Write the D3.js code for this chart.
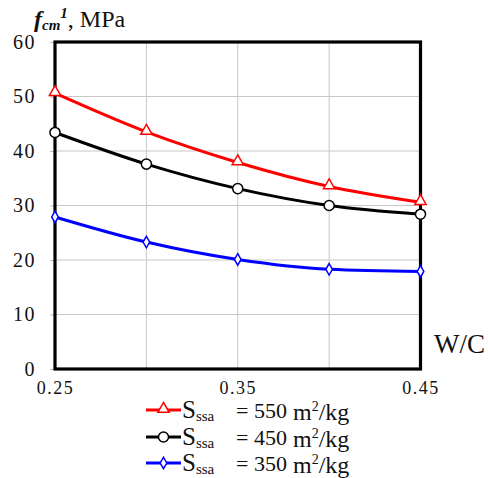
<!DOCTYPE html>
<html><head><meta charset="utf-8">
<script src="https://cdn.jsdelivr.net/npm/d3@7"></script>
<style>body{margin:0;background:#fff}svg{display:block}svg text{font-family:"Liberation Serif","Times New Roman",serif !important}</style>
</head><body>
<script>
const wc = [0.25, 0.30, 0.35, 0.40, 0.45];
const s550 = [50.6, 43.5, 37.9, 33.5, 30.6];
const s450 = [43.4, 37.6, 33.1, 30.0, 28.4];
const s350 = [27.9, 23.3, 20.1, 18.3, 17.9];
const yTicks = [0, 10, 20, 30, 40, 50, 60];
const xTickLabels = [0.25, 0.35, 0.45];
const xGrid = [0.30, 0.35, 0.40];
const seriesNames = ["550", "450", "350"];
const seriesColors = ["#ff0000", "#000000", "#0000ff"];
const seriesSymbols = ["triangle", "circle", "diamond"];

const FF = "'Liberation Serif', 'Times New Roman', serif";
const W = 488, H = 478;
const svg = d3.select("body").append("svg").attr("width", W).attr("height", H)
  .attr("font-family", FF);
const x = d3.scaleLinear().domain([0.25, 0.45]).range([55, 420.5]);
const y = d3.scaleLinear().domain([0, 60]).range([369, 42]);

// grid
svg.append("g").selectAll("line").data(yTicks.filter(d => d > 0 && d < 60)).join("line")
  .attr("x1", x(0.25)).attr("x2", x(0.45)).attr("y1", d => y(d)).attr("y2", d => y(d))
  .attr("stroke", "#c8c8c8").attr("stroke-width", 1);
svg.append("g").selectAll("line").data(xGrid).join("line")
  .attr("y1", y(0)).attr("y2", y(60)).attr("x1", d => x(d)).attr("x2", d => x(d))
  .attr("stroke", "#c8c8c8").attr("stroke-width", 1);

// y axis labels
const yAxis = d3.axisLeft(y).tickValues(yTicks).tickSize(5).tickPadding(14).tickFormat(d3.format("d"));
const ya = svg.append("g").attr("transform", `translate(${x(0.25)},0)`).call(yAxis).attr("font-family", FF);
ya.select(".domain").remove();
ya.selectAll(".tick line").attr("stroke", "#bbb");
ya.selectAll("text").attr("font-size", 20).attr("letter-spacing", 1.5).attr("fill", "#111");

const xAxis = d3.axisBottom(x).tickValues(xTickLabels).tickSize(0).tickPadding(12).tickFormat(d3.format(".2f"));
const xa = svg.append("g").attr("transform", `translate(0,${y(0)})`).call(xAxis).attr("font-family", FF);
xa.select(".domain").remove();
xa.selectAll("text").attr("font-size", 18).attr("letter-spacing", 1.5).attr("fill", "#111");

// frame
svg.append("rect").attr("x", x(0.25)).attr("y", y(60)).attr("width", x(0.45) - x(0.25)).attr("height", y(0) - y(60))
  .attr("fill", "none").attr("stroke", "#000").attr("stroke-width", 3.2);

// series
const allSeries = [s550, s450, s350];
const line = d3.line().x((d, i) => x(wc[i])).y(d => y(d)).curve(d3.curveMonotoneX);
const symType = {triangle: d3.symbolTriangle, circle: d3.symbolCircle, diamond: d3.symbolDiamond};
const symSize = {triangle: 55, circle: 80, diamond: 38};
allSeries.forEach((s, k) => {
  svg.append("path").datum(s).attr("d", line).attr("fill", "none")
    .attr("stroke", seriesColors[k]).attr("stroke-width", 3);
});
allSeries.forEach((s, k) => {
  const sym = d3.symbol().type(symType[seriesSymbols[k]]).size(symSize[seriesSymbols[k]]);
  svg.append("g").selectAll("path").data(s).join("path")
    .attr("transform", (d, i) => `translate(${x(wc[i])},${y(d) + (seriesSymbols[k] === "triangle" ? -1 : 0)})`)
    .attr("d", sym).attr("fill", "#fff").attr("stroke", seriesColors[k]).attr("stroke-width", 1.5);
});

// y title
const t = svg.append("text").attr("x", 34).attr("y", 27).attr("font-size", 24).attr("fill", "#111");
t.append("tspan").text("f").attr("font-style", "italic").attr("font-weight", "bold");
t.append("tspan").text("cm").attr("font-style", "italic").attr("font-weight", "bold").attr("font-size", 15).attr("dy", 3);
t.append("tspan").text("1").attr("font-style", "italic").attr("font-weight", "bold").attr("font-size", 15).attr("dy", -12);
t.append("tspan").text(", MPa").attr("dy", 9);

// x title
svg.append("text").attr("x", 434).attr("y", 353).attr("font-size", 27).attr("fill", "#111").text("W/C");

// legend
const lgY = [410, 437, 463];
seriesNames.forEach((n, k) => {
  const yy = lgY[k];
  svg.append("line").attr("x1", 146).attr("x2", 181).attr("y1", yy).attr("y2", yy)
    .attr("stroke", seriesColors[k]).attr("stroke-width", 3);
  const sym = d3.symbol().type(symType[seriesSymbols[k]]).size(symSize[seriesSymbols[k]]);
  svg.append("path").attr("transform", `translate(163.5,${yy + (seriesSymbols[k] === "triangle" ? -1 : 0)})`)
    .attr("d", sym).attr("fill", "#fff").attr("stroke", seriesColors[k]).attr("stroke-width", 1.5);
  const tx = svg.append("text").attr("x", 182).attr("y", yy + 8).attr("font-size", 25).attr("fill", "#111");
  tx.append("tspan").text("S");
  tx.append("tspan").text("ssa").attr("font-size", 15).attr("dy", 3);
  tx.append("tspan").text("= " + n).attr("x", 236).attr("dy", -3).attr("font-size", 22);
  const t2 = svg.append("text").attr("x", 293).attr("y", yy + 10).attr("font-size", 24).attr("fill", "#111");
  t2.append("tspan").text("m");
  t2.append("tspan").text("2").attr("font-size", 14).attr("dy", -9);
  t2.append("tspan").text("/kg").attr("dy", 9);
});
</script>
</body></html>
